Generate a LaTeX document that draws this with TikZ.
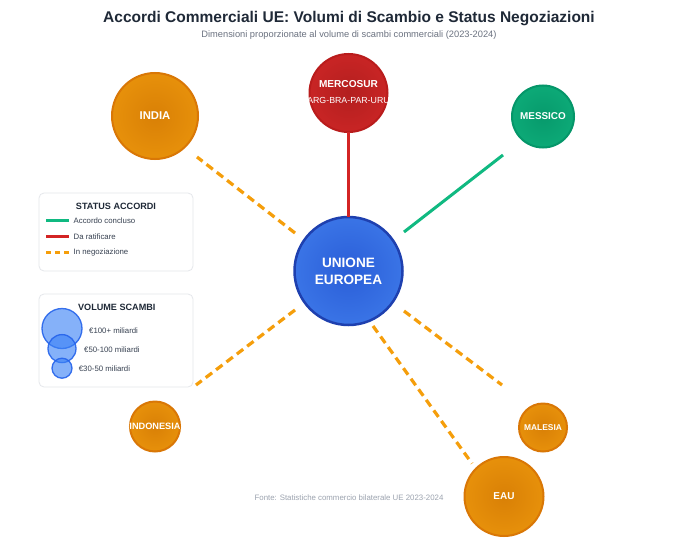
\documentclass[tikz,border=0pt]{standalone}
\usepackage{fontspec}
\setmainfont{Liberation Sans}
\usetikzlibrary{calc}
\definecolor{euin}{HTML}{2A5ED8}
\definecolor{euout}{HTML}{4A8AF4}
\definecolor{euborder}{HTML}{1E40AF}
\definecolor{redin}{HTML}{B31F1F}
\definecolor{redout}{HTML}{DE2A2A}
\definecolor{redborder}{HTML}{B91C1C}
\definecolor{orin}{HTML}{D98006}
\definecolor{orout}{HTML}{F5A10F}
\definecolor{orborder}{HTML}{D97706}
\definecolor{grin}{HTML}{079A6C}
\definecolor{grout}{HTML}{12B982}
\definecolor{grborder}{HTML}{059669}
\definecolor{linered}{HTML}{D32424}
\definecolor{linegreen}{HTML}{10B981}
\definecolor{lineorange}{HTML}{F59E0B}
\definecolor{titlecol}{HTML}{1F2937}
\definecolor{subcol}{HTML}{6B7280}
\definecolor{footcol}{HTML}{9CA3AF}
\definecolor{legtext}{HTML}{374151}
\definecolor{legborder}{HTML}{E5E7EB}
\definecolor{volfill}{HTML}{3B82F6}
\definecolor{volborder}{HTML}{2563EB}
\pgfdeclareradialshading{eushade}{\pgfpoint{0bp}{0bp}}{color(0bp)=(euin); color(50bp)=(euout)}
\pgfdeclareradialshading{redshade}{\pgfpoint{0bp}{0bp}}{color(0bp)=(redin); color(50bp)=(redout)}
\pgfdeclareradialshading{orshade}{\pgfpoint{0bp}{0bp}}{color(0bp)=(orin); color(50bp)=(orout)}
\pgfdeclareradialshading{grshade}{\pgfpoint{0bp}{0bp}}{color(0bp)=(grin); color(50bp)=(grout)}
\tikzset{
  ball/.style={circle, inner sep=0pt, outer sep=0pt, text=white, align=center, shade, line width=2pt},
  euball/.style={ball, shading=eushade, draw=euborder, line width=2.5pt},
  redball/.style={ball, shading=redshade, draw=redborder},
  orball/.style={ball, shading=orshade, draw=orborder},
  grball/.style={ball, shading=grshade, draw=grborder},
  concluded/.style={draw=linegreen, line width=3pt},
  ratify/.style={draw=linered, line width=3pt},
  negot/.style={draw=lineorange, line width=3.2pt, dash pattern=on 8pt off 5pt},
  legbox/.style={draw=legborder, fill=white, rounded corners=5pt, line width=0.8pt, inner sep=0pt, outer sep=0pt, anchor=north west},
  legtitle/.style={font=\fontsize{9.1}{11}\selectfont\bfseries, text=titlecol, inner sep=0pt},
  legitem/.style={font=\fontsize{7.8}{9}\selectfont, text=legtext, anchor=west, inner sep=0pt},
  volc/.style={circle, inner sep=0pt, fill=volfill, fill opacity=0.62, draw=volborder, draw opacity=0.9, line width=1.3pt},
}
\begin{document}
\begin{tikzpicture}[x=1pt,y=-1pt]
\useasboundingbox[fill=white] (0,0) rectangle (698,543);
% title
\node[font=\fontsize{15.5}{18}\selectfont\bfseries, text=titlecol, inner sep=0pt] (title) at (349,18.5) {Accordi Commerciali UE: Volumi di Scambio e Status Negoziazioni};
\node[font=\fontsize{9.3}{11}\selectfont, text=subcol, inner sep=0pt] (subtitle) at (349,35.5) {Dimensioni proporzionate al volume di scambi commerciali (2023-2024)};
% partner nodes
\node[euball, minimum size=108pt, font=\fontsize{13.6}{16.7}\selectfont\bfseries] (eu) at (348.5,271) {UNIONE\\EUROPEA};
\node[redball, minimum size=78pt, font=\fontsize{10.1}{15.3}\selectfont\bfseries] (mercosur) at (348.5,93) {MERCOSUR\\\makebox[0pt][c]{\fontsize{8.8}{15.3}\selectfont\mdseries (ARG-BRA-PAR-URU)}};
\node[orball, minimum size=86pt, font=\fontsize{11.3}{13}\selectfont\bfseries] (india) at (155,116) {INDIA};
\node[grball, minimum size=62pt, font=\fontsize{9.9}{12}\selectfont\bfseries] (messico) at (543,116.5) {MESSICO};
\node[orball, minimum size=50pt, font=\fontsize{9.2}{11}\selectfont\bfseries] (indonesia) at (155,426.5) {\makebox[0pt][c]{INDONESIA}};
\node[orball, minimum size=48pt, font=\fontsize{8.4}{10}\selectfont\bfseries] (malesia) at (543,427.5) {MALESIA};
\node[orball, minimum size=79pt, font=\fontsize{10}{12}\selectfont\bfseries] (eau) at (504,496.5) {EAU};
% connectors
\draw[ratify] (eu.north) -- (mercosur.south);
\draw[negot] ($(eu)+(-53.5,-38)$) -- ($(india)+(42,41)$);
\draw[concluded] ($(eu)+(55.5,-39)$) -- ($(messico)+(-40,38.5)$);
\draw[negot] ($(eu)+(-53.5,39)$) -- ($(indonesia)+(41,-41.5)$);
\draw[negot] ($(eu)+(55.5,40)$) -- ($(malesia)+(-41,-42.5)$);
\draw[negot] ($(eu)+(24.5,55)$) -- ($(eau)+(-32,-33)$);
% legend status
\node[legbox, minimum width=154pt, minimum height=78pt] (leg1) at (39,193) {};
\node[legtitle] (leg1title) at (116,206) {STATUS ACCORDI};
\draw[concluded, line width=2.5pt] (46,220.7) coordinate (lg1a) -- (69,220.7) coordinate (lg1b);
\node[legitem] (lt1) at (73.5,220.7) {Accordo concluso};
\draw[ratify, line width=2.5pt] (46,236.7) coordinate (lg2a) -- (69,236.7) coordinate (lg2b);
\node[legitem] (lt2) at (73.5,236.7) {Da ratificare};
\draw[negot, line width=2.5pt, dash pattern=on 5pt off 4pt] (46,252.7) coordinate (lg3a) -- (69,252.7) coordinate (lg3b);
\node[legitem] (lt3) at (73.5,252.7) {In negoziazione};
% legend volume
\node[legbox, minimum width=154pt, minimum height=93pt] (leg2) at (39,294) {};
\node[legtitle] (leg2title) at (116.8,307.7) {VOLUME SCAMBI};
\node[volc, minimum size=40pt] (v1) at (62,328.5) {};
\node[volc, minimum size=28pt] (v2) at (62,348.6) {};
\node[volc, minimum size=20pt] (v3) at (62,368.2) {};
\node[legitem] (vt1) at (89,330.3) {€100+ miliardi};
\node[legitem] (vt2) at (84,349.7) {€50-100 miliardi};
\node[legitem] (vt3) at (78.7,368.7) {€30-50 miliardi};
% footer
\node[font=\fontsize{7.85}{10}\selectfont, text=footcol, inner sep=0pt] (footer) at (349,497.7) {Fonte: Statistiche commercio bilaterale UE 2023-2024};
\end{tikzpicture}
\end{document}
